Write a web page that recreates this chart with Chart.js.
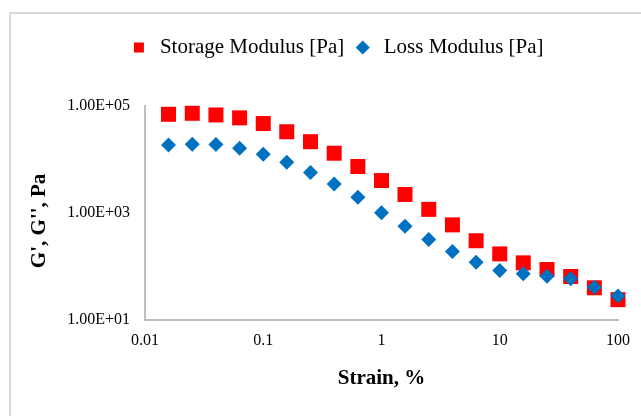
<!DOCTYPE html>
<html>
<head>
<meta charset="utf-8">
<script src="https://cdn.jsdelivr.net/npm/chart.js@4/dist/chart.umd.min.js"></script>
<style>
  html, body { margin: 0; padding: 0; background: #fff; }
  #wrap { width: 641px; height: 416px; }
</style>
</head>
<body>
<div id="wrap"><canvas id="rheoChart" width="641" height="416"></canvas></div>
<script>
// strain, %
const strain = [0.0158, 0.0251, 0.0398, 0.0631, 0.1, 0.158, 0.251, 0.398, 0.631, 1,
                1.58, 2.51, 3.98, 6.31, 10, 15.8, 25.1, 39.8, 63.1, 100];
// G' storage modulus [Pa]
const storageModulus = [70000, 73000, 68000, 60000, 47000, 33000, 21500, 13100, 7400, 4040,
                        2220, 1170, 600, 303, 172, 117, 88, 65, 40, 24];
// G'' loss modulus [Pa]
const lossModulus = [18700, 19200, 19000, 16200, 12500, 8900, 5740, 3490, 1980, 1010,
                     568, 321, 190, 120, 84, 73, 66, 59, 41, 28];

const xTicks = [0.01, 0.1, 1, 10, 100];
const yTicks = [10, 1000, 100000];

const serif = "'Liberation Serif', 'Times New Roman', serif";

function toPoints(ys) {
    return strain.map((s, i) => ({ x: s, y: ys[i] }));
}

// рамка вокруг диаграммы (обрезана справа и снизу)
const frame = {
    id: 'frame',
    beforeDraw(chart) {
        const c = chart.ctx;
        c.save();
        c.fillStyle = '#fff';
        c.fillRect(0, 0, chart.width, chart.height);
        c.strokeStyle = '#d9d9d9';
        c.lineWidth = 2;
        c.beginPath();
        c.moveTo(10, chart.height);
        c.lineTo(10, 13);
        c.lineTo(chart.width, 13);
        c.stroke();
        c.restore();
    }
};

const ctx = document.getElementById('rheoChart').getContext('2d');

const chart = new Chart(ctx, {
    type: 'scatter',
    data: {
        datasets: [{
            label: 'Storage Modulus [Pa]',
            data: toPoints(storageModulus),
            pointStyle: 'rect',
            pointRadius: 10.6,
            backgroundColor: '#ff0000',
            borderColor: '#ff0000',
            borderWidth: 0,
            clip: false,
            order: 1
        }, {
            label: 'Loss Modulus [Pa]',
            data: toPoints(lossModulus),
            pointStyle: 'rectRot',
            pointRadius: 7.5,
            backgroundColor: '#0070c0',
            borderColor: '#0070c0',
            borderWidth: 0,
            clip: false,
            order: 0 // синие ромбы поверх красных
        }]
    },
    options: {
        responsive: false,
        animation: false,
        layout: { padding: { left: 54, right: 23, top: 29, bottom: 16 } },
        plugins: {
            tooltip: { enabled: false },
            legend: {
                position: 'top',
                labels: {
                    usePointStyle: true,
                    boxHeight: 10,
                    padding: 8,
                    color: '#000',
                    font: { family: serif, size: 21 },
                    sort: (a, b) => a.datasetIndex - b.datasetIndex
                }
            },
            // пустой заголовок как отступ между легендой и графиком
            title: {
                display: true,
                text: '',
                weight: 500,
                font: { size: 10 },
                padding: { top: 0, bottom: 26 }
            }
        },
        scales: {
            x: {
                type: 'logarithmic',
                min: 0.01,
                max: 100,
                afterBuildTicks: axis => { axis.ticks = xTicks.map(v => ({ value: v })); },
                afterFit: axis => { axis.height = 80; },
                grid: { display: false },
                border: { display: true, color: '#bfbfbf', width: 2 },
                ticks: {
                    color: '#000',
                    padding: 3,
                    maxRotation: 0,
                    font: { family: serif, size: 16 },
                    callback: v => String(v)
                },
                title: {
                    display: true,
                    text: 'Strain, %',
                    color: '#000',
                    font: { family: serif, size: 21, weight: 'bold' },
                    padding: { top: 4, bottom: 9 }
                }
            },
            y: {
                type: 'logarithmic',
                min: 10,
                max: 100000,
                afterBuildTicks: axis => { axis.ticks = yTicks.map(v => ({ value: v })); },
                afterFit: axis => { axis.width = 91; },
                grid: { display: false },
                border: { display: true, color: '#bfbfbf', width: 2 },
                ticks: {
                    color: '#000',
                    padding: 7,
                    font: { family: serif, size: 16 },
                    callback: v => Number(v).toExponential(2).toUpperCase().replace(/E\+(\d)$/, 'E+0$1')
                },
                title: {
                    display: true,
                    text: "G', G'', Pa   ",
                    color: '#000',
                    font: { family: serif, size: 21, weight: 'bold' },
                    padding: { top: -26.6, bottom: 0 }
                }
            }
        }
    },
    plugins: [frame]
});
</script>
</body>
</html>
